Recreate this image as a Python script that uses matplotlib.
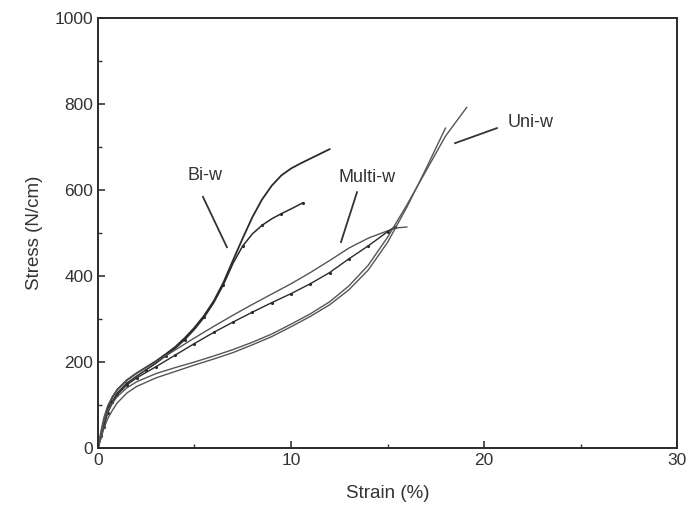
import matplotlib.pyplot as plt
import numpy as np

plt.rcParams['font.family'] = ['Liberation Sans', 'DejaVu Sans']

# Bi-w (two specimens)
biw_x1 = [0, 0.15, 0.3, 0.5, 0.75, 1.0, 1.5, 2.0, 2.5, 3.0, 3.5, 4.0, 4.5, 5.0, 5.5, 6.0, 6.5, 7.0, 7.5, 8.0,
          8.5, 9.0, 9.5, 10.0, 10.5, 11.0, 11.5, 12.0]
biw_y1 = [0, 30, 60, 92, 118, 136, 158, 174, 188, 202, 218, 235, 256, 280, 308, 342, 385, 437, 488, 537,
          578, 610, 634, 650, 662, 673, 684, 695]
biw_x2 = [0, 0.15, 0.3, 0.5, 0.75, 1.0, 1.5, 2.0, 2.5, 3.0, 3.5, 4.0, 4.5, 5.0, 5.5, 6.0, 6.5, 7.0, 7.5, 8.0,
          8.5, 9.0, 9.5, 10.0, 10.6]
biw_y2 = [0, 24, 50, 82, 108, 128, 151, 167, 182, 197, 214, 232, 252, 276, 304, 338, 380, 430, 470, 498,
          518, 533, 545, 556, 570]

# Multi-w (two specimens)
mw_x1 = [0, 0.15, 0.3, 0.5, 0.75, 1.0, 1.5, 2, 3, 4, 5, 6, 7, 8, 9, 10, 11, 12, 13, 14, 15, 15.5, 16]
mw_y1 = [0, 38, 70, 98, 120, 136, 158, 174, 200, 228, 256, 283, 309, 334, 358, 382, 408, 436, 465, 488, 505, 512, 514]
mw_x2 = [0, 0.15, 0.3, 0.5, 0.75, 1.0, 1.5, 2, 3, 4, 5, 6, 7, 8, 9, 10, 11, 12, 13, 14, 15, 15.4]
mw_y2 = [0, 28, 55, 82, 106, 124, 147, 163, 189, 216, 243, 269, 293, 316, 338, 359, 382, 408, 440, 470, 503, 515]

# Uni-w (two specimens)
uw_x1 = [0, 0.15, 0.3, 0.5, 0.75, 1.0, 1.5, 2, 3, 4, 5, 6, 7, 8, 9, 10, 11, 12, 13, 14, 15, 16, 17, 18, 19.1]
uw_y1 = [0, 32, 60, 84, 104, 120, 140, 154, 173, 187, 200, 214, 229, 246, 265, 288, 312, 340, 377, 425, 490,
         565, 645, 725, 792]
uw_x2 = [0, 0.15, 0.3, 0.5, 0.75, 1.0, 1.5, 2, 3, 4, 5, 6, 7, 8, 9, 10, 11, 12, 13, 14, 15, 16, 17, 18.0]
uw_y2 = [0, 22, 45, 68, 88, 105, 128, 143, 163, 178, 193, 207, 222, 240, 259, 282, 306, 333, 368, 414, 478,
         560, 650, 744]

fig = plt.figure(figsize=(6.91, 5.21), dpi=100)
ax = fig.add_axes([0.1418, 0.1401, 0.838, 0.8253])

dark = '#2b2b2b'
mid = '#555555'

ax.plot(biw_x1, biw_y1, color=dark, lw=1.3)
ax.plot(biw_x2, biw_y2, color=dark, lw=1.1, marker='.', ms=2.5, markevery=2)
ax.plot(mw_x1, mw_y1, color=mid, lw=1.0)
ax.plot(mw_x2, mw_y2, color=dark, lw=1.0, marker='.', ms=2.5)
ax.plot(uw_x1, uw_y1, color=mid, lw=1.0)
ax.plot(uw_x2, uw_y2, color=mid, lw=1.0)

# labels with leader lines
txt = '#333333'
ax.text(5.54, 633, 'Bi-w', ha='center', va='center', fontsize=13, color=txt)
ax.plot([5.44, 6.68], [584, 467], color=txt, lw=1.3)
ax.text(13.94, 630, 'Multi-w', ha='center', va='center', fontsize=13, color=txt)
ax.plot([13.42, 12.59], [595, 479], color=txt, lw=1.3)
ax.text(22.4, 758, 'Uni-w', ha='center', va='center', fontsize=13, color=txt)
ax.plot([20.67, 18.5], [744, 709], color=txt, lw=1.3)

ax.set_xlim(0, 30)
ax.set_ylim(0, 1000)
ax.set_xticks([0, 10, 20, 30])
ax.set_xticks([5, 15, 25], minor=True)
ax.set_yticks([0, 200, 400, 600, 800, 1000])
ax.set_yticks([100, 300, 500, 700, 900], minor=True)
ax.tick_params(which='both', direction='in', colors=txt, labelsize=12.5)
ax.tick_params(which='major', length=5, width=1.2)
ax.tick_params(which='minor', length=3, width=1.0)
for s in ax.spines.values():
    s.set_linewidth(1.4)
    s.set_color(dark)

ax.set_xlabel('Strain (%)', fontsize=13.5, color=txt, labelpad=12)
ax.set_ylabel('Stress (N/cm)', fontsize=13.5, color=txt, labelpad=8)

plt.savefig('out.png', dpi=100)
